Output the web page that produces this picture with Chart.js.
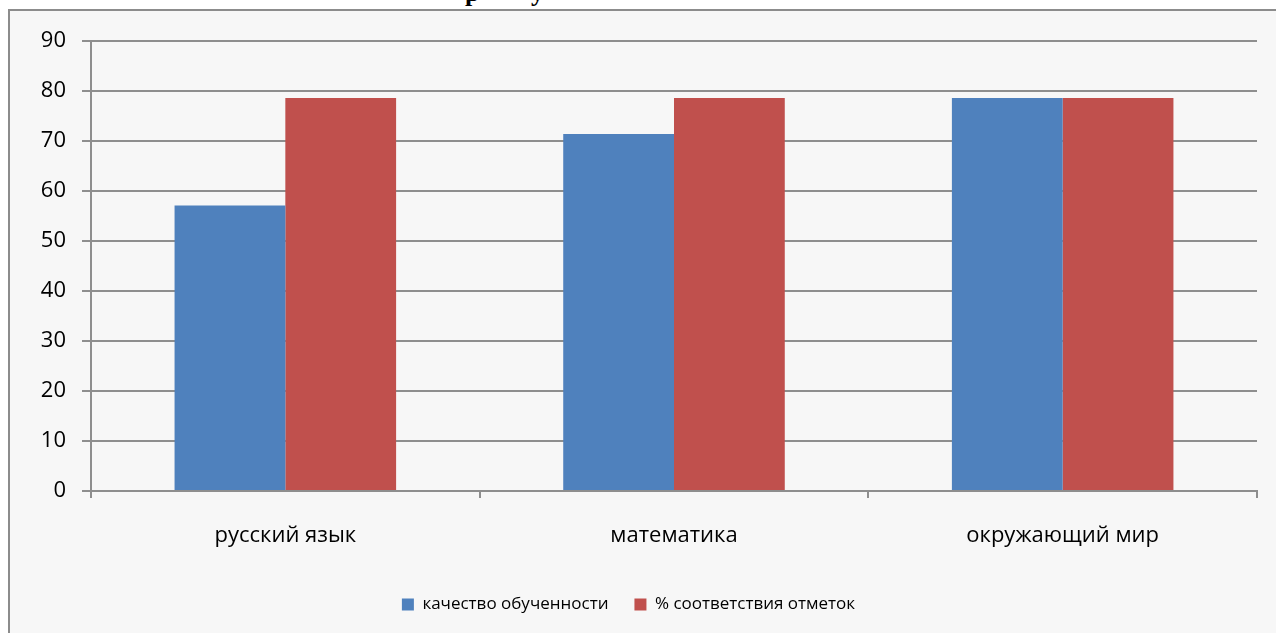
<!DOCTYPE html>
<html>
<head>
<meta charset="utf-8">
<script src="https://cdn.jsdelivr.net/npm/chart.js@4.4.0/dist/chart.umd.min.js"></script>
<style>
  html, body { margin: 0; padding: 0; background: #ffffff; overflow: hidden; }
  #page { position: relative; width: 1276px; height: 633px; }
  /* рамка диаграммы, уходит за правый и нижний край */
  #frame {
    position: absolute; left: 8px; top: 9px; width: 1300px; height: 660px;
    background: #f7f7f7; border-left: 2px solid #8c8c8c; border-top: 2px solid #8c8c8c;
  }
  .title-bit {
    position: absolute; top: -22px; font: bold 26px "Liberation Serif", serif; color: #000;
  }
  #chart { position: absolute; left: 0; top: 0; }
</style>
</head>
<body>
<div id="page">
  <span class="title-bit" style="left:465px">р</span>
  <span class="title-bit" style="left:531px">у</span>
  <div id="frame"></div>
  <canvas id="chart" width="1276" height="633"></canvas>
</div>
<script>
// Данные диаграммы
const subjects = ['русский язык', 'математика', 'окружающий мир'];
const qualityValues = [57.1, 71.4, 78.6];
const matchValues = [78.6, 78.6, 78.6];
const seriesNames = ['качество обученности', '% соответствия отметок'];
const yTicks = [0, 10, 20, 30, 40, 50, 60, 70, 80, 90];

const gridColor = '#8e8e8e';
const fontFamily = '"Open Sans", "Noto Sans", sans-serif';

const ctx = document.getElementById('chart');

new Chart(ctx, {
    type: 'bar',
    data: {
        labels: subjects,
        datasets: [
            {
                label: seriesNames[0],
                data: qualityValues,
                backgroundColor: '#4f81bd',
                categoryPercentage: 0.57,
                barPercentage: 1.0
            },
            {
                label: seriesNames[1],
                data: matchValues,
                backgroundColor: '#c0504d',
                categoryPercentage: 0.57,
                barPercentage: 1.0
            }
        ]
    },
    options: {
        responsive: false,
        animation: false,
        devicePixelRatio: 1,
        layout: { padding: { left: 0, top: 41, right: 19, bottom: 10 } },
        scales: {
            y: {
                min: 0,
                max: 90,
                afterBuildTicks: (scale) => {
                    scale.ticks = yTicks.map(v => ({ value: v }));
                },
                afterFit: (scale) => { scale.width = 91; },
                grid: { color: gridColor, lineWidth: 2, tickLength: 9 },
                border: { color: gridColor, width: 2 },
                ticks: {
                    padding: 16,
                    color: '#000',
                    font: { family: fontFamily, size: 22 }
                }
            },
            x: {
                afterFit: (scale) => { scale.height = 79; },
                grid: { drawOnChartArea: false, color: gridColor, lineWidth: 2, tickLength: 7 },
                border: { color: gridColor, width: 2 },
                ticks: {
                    padding: 25,
                    color: '#000',
                    font: { family: fontFamily, size: 22 }
                }
            }
        },
        plugins: {
            legend: {
                position: 'bottom',
                labels: {
                    boxWidth: 12,
                    boxHeight: 12,
                    padding: 26,
                    color: '#000',
                    font: { family: fontFamily, size: 17 }
                }
            },
            tooltip: { enabled: false }
        }
    }
});
</script>
</body>
</html>
